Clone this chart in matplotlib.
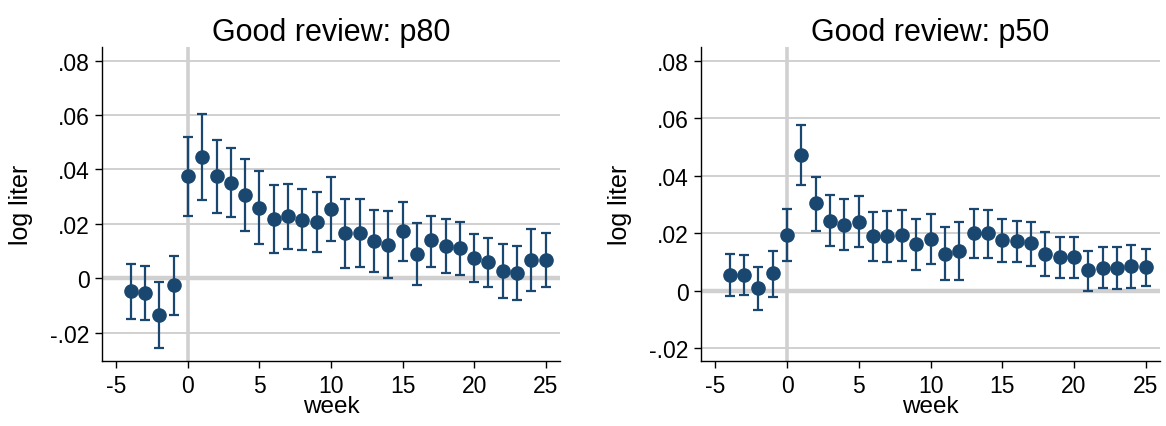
import matplotlib.pyplot as plt
import numpy as np

plt.rcParams['font.family'] = ['Liberation Sans', 'DejaVu Sans']
plt.rcParams['axes.unicode_minus'] = False

weeks = list(range(-4, 26))

# Good review: p80
p80_coef = [-0.0046, -0.0055, -0.0135, -0.0026, 0.0376, 0.0447, 0.0376, 0.0351,
            0.0307, 0.0258, 0.0219, 0.0229, 0.0215, 0.0207, 0.0253, 0.0165,
            0.0168, 0.0138, 0.0122, 0.0172, 0.0088, 0.0139, 0.0120, 0.0111,
            0.0076, 0.0059, 0.0027, 0.0021, 0.0069, 0.0066]
p80_hi = [0.0053, 0.0045, -0.0013, 0.0082, 0.0520, 0.0604, 0.0510, 0.0478,
          0.0440, 0.0394, 0.0341, 0.0347, 0.0328, 0.0317, 0.0371, 0.0292,
          0.0292, 0.0250, 0.0246, 0.0279, 0.0203, 0.0230, 0.0218, 0.0208,
          0.0164, 0.0147, 0.0125, 0.0119, 0.0181, 0.0166]
p80_lo = [-0.0148, -0.0153, -0.0256, -0.0136, 0.0229, 0.0289, 0.0241, 0.0224,
          0.0175, 0.0125, 0.0094, 0.0109, 0.0103, 0.0097, 0.0136, 0.0039,
          0.0042, 0.0024, 0.0000, 0.0062, -0.0026, 0.0043, 0.0020, 0.0013,
          -0.0015, -0.0031, -0.0073, -0.0078, -0.0045, -0.0032]

# Good review: p50
p50_coef = [0.0055, 0.0055, 0.0008, 0.0060, 0.0194, 0.0473, 0.0304, 0.0244,
            0.0229, 0.0240, 0.0190, 0.0190, 0.0192, 0.0161, 0.0181, 0.0128,
            0.0139, 0.0200, 0.0200, 0.0177, 0.0171, 0.0165, 0.0127, 0.0116,
            0.0116, 0.0072, 0.0080, 0.0079, 0.0084, 0.0081]
p50_hi = [0.0129, 0.0125, 0.0083, 0.0139, 0.0283, 0.0576, 0.0397, 0.0332,
          0.0318, 0.0329, 0.0274, 0.0277, 0.0281, 0.0251, 0.0268, 0.0222,
          0.0238, 0.0283, 0.0282, 0.0251, 0.0244, 0.0238, 0.0203, 0.0187,
          0.0185, 0.0138, 0.0151, 0.0151, 0.0160, 0.0146]
p50_lo = [-0.0018, -0.0015, -0.0069, -0.0021, 0.0104, 0.0369, 0.0209, 0.0156,
          0.0140, 0.0151, 0.0104, 0.0098, 0.0103, 0.0072, 0.0091, 0.0037,
          0.0036, 0.0112, 0.0114, 0.0101, 0.0098, 0.0087, 0.0051, 0.0043,
          0.0045, 0.0000, 0.0008, 0.0005, 0.0010, 0.0015]

yticks = [-0.02, 0, 0.02, 0.04, 0.06, 0.08]
ytick_labels = ['-.02', '0', '.02', '.04', '.06', '.08']
xticks = [-5, 0, 5, 10, 15, 20, 25]

navy = '#1a476f'
grid_col = '#d0d0d0'


def coef_panel(ax, coef, lo, hi, title, ylim):
    coef = np.array(coef)
    yerr = [coef - np.array(lo), np.array(hi) - coef]
    for y in yticks:
        if y == 0:
            ax.axhline(y, color=grid_col, lw=3.2, zorder=1)
        else:
            ax.axhline(y, color=grid_col, lw=1.4, zorder=1)
    ax.axvline(0, color=grid_col, lw=2.6, zorder=1)
    ax.errorbar(weeks, coef, yerr=yerr, fmt='o', color=navy, ms=9.5,
                elinewidth=1.6, capsize=3.8, capthick=1.6, zorder=3)
    ax.set_xlim(-6, 26)
    ax.set_ylim(*ylim)
    ax.set_xticks(xticks)
    ax.set_yticks(yticks)
    ax.set_yticklabels(ytick_labels)
    ax.set_title(title, fontsize=22, pad=5)
    ax.set_xlabel('week', fontsize=17.5, labelpad=-1)
    ax.set_ylabel('log liter', fontsize=18, labelpad=12)
    ax.tick_params(labelsize=16.5, length=5, width=1, direction='out', pad=4)
    ax.spines['top'].set_visible(False)
    ax.spines['right'].set_visible(False)
    ax.spines['left'].set_linewidth(1)
    ax.spines['bottom'].set_linewidth(1)


fig = plt.figure(figsize=(11.66, 4.27), dpi=100)
ax1 = fig.add_axes([0.0875, 0.1522, 0.3928, 0.7354])
ax2 = fig.add_axes([0.6012, 0.1522, 0.3937, 0.7354])

coef_panel(ax1, p80_coef, p80_lo, p80_hi, 'Good review: p80', (-0.0304, 0.085))
coef_panel(ax2, p50_coef, p50_lo, p50_hi, 'Good review: p50', (-0.0245, 0.0848))

fig.savefig('out.png', dpi=100)
